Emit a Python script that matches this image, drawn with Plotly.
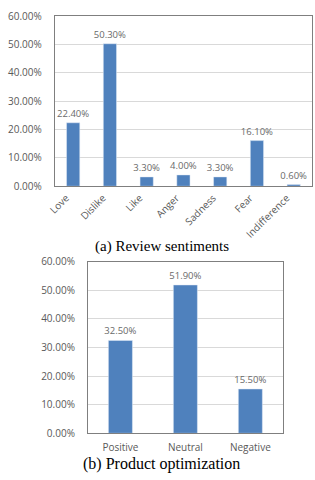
import plotly.graph_objects as go

cats_a = ["Love", "Dislike", "Like", "Anger", "Sadness", "Fear", "Indifference"]
vals_a = [22.4, 50.3, 3.3, 4.0, 3.3, 16.1, 0.6]
cats_b = ["Positive", "Neutral", "Negative"]
vals_b = [32.5, 51.9, 15.5]
yticks = [0, 10, 20, 30, 40, 50, 60]
caption_a = "(a) Review sentiments"
caption_b = "(b) Product optimization"

BAR = "#4f81bd"
TXT = "#595959"
FONT = "Open Sans"
H = 480.0
W = 315.0

fig = go.Figure()
fig.add_trace(go.Bar(x=cats_a, y=vals_a, marker_color=BAR, width=0.36,
                     text=[f"{v:.2f}%" for v in vals_a], textposition="outside",
                     constraintext="none",
                     textfont=dict(size=9.5, color="#6a6a6a", family=FONT), cliponaxis=False,
                     xaxis="x", yaxis="y"))
fig.add_trace(go.Bar(x=cats_b, y=vals_b, marker_color=BAR, width=0.37,
                     text=[f"{v:.2f}%" for v in vals_b], textposition="outside",
                     constraintext="none",
                     textfont=dict(size=9.5, color="#6a6a6a", family=FONT), cliponaxis=False,
                     xaxis="x2", yaxis="y2"))

axis_common = dict(showline=True, linecolor="#7f7f7f", linewidth=1, mirror=True,
                   tickfont=dict(size=10, color=TXT, family=FONT), fixedrange=True)
ycommon = dict(range=[0, 60], tickvals=yticks, ticktext=[f"{t:.2f}%" for t in yticks],
               gridcolor="#d9d9d9", gridwidth=1, zeroline=False, ticks="",
               ticklabelstandoff=10, **axis_common)

fig.update_layout(
    width=315, height=480, margin=dict(l=0, r=0, t=0, b=0),
    paper_bgcolor="white", plot_bgcolor="white", showlegend=False,
    xaxis=dict(domain=[48/W, 312/W], anchor="y", tickangle=-45, ticks="",
               ticklabelstandoff=1, ticklabelshift=-7, **axis_common),
    yaxis=dict(domain=[1-184/H, 1-8.5/H], anchor="x", **ycommon),
    xaxis2=dict(domain=[82/W, 282/W], anchor="y2", tickangle=0, ticks="",
                ticklabelstandoff=5, **axis_common),
    yaxis2=dict(domain=[1-439/H, 1-262/H], anchor="x2", **ycommon),
    annotations=[
        dict(text=caption_a, x=158/W, y=1-246/H, xref="paper", yref="paper",
             xanchor="center", yanchor="middle",
             showarrow=False, font=dict(family="Liberation Serif", size=15, color="black")),
        dict(text=caption_b, x=158/W, y=1-471/H, xref="paper", yref="paper",
             xanchor="center", yanchor="middle",
             showarrow=False, font=dict(family="Liberation Serif", size=16, color="black")),
    ],
)

fig.write_html("out.html", config={"displayModeBar": False},
               post_script="document.body.style.margin='0';document.body.style.padding='0';")
